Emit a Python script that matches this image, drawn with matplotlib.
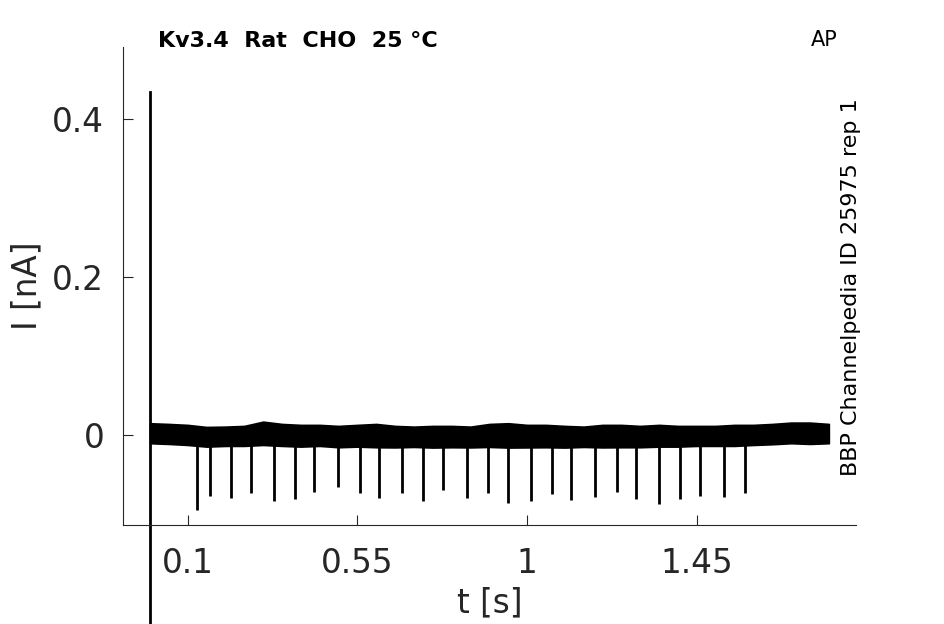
import matplotlib
matplotlib.use("Agg")
import matplotlib.pyplot as plt
import numpy as np

# Datos
env_t = np.arange(0, 1.801, 0.05)
env_upper = [0.0148, 0.0139, 0.0127, 0.0101, 0.0105, 0.0114, 0.0168, 0.0139,
             0.0127, 0.0127, 0.0114, 0.0127, 0.0139, 0.0114, 0.0105, 0.0114,
             0.0114, 0.0105, 0.0139, 0.0148, 0.0127, 0.0127, 0.0114, 0.0105,
             0.0127, 0.0127, 0.0114, 0.0127, 0.0114, 0.0114, 0.0114, 0.0127,
             0.0127, 0.0139, 0.0156, 0.0156, 0.0139]
env_lower = [-0.0105, -0.0114, -0.0127, -0.0148, -0.0139, -0.0139, -0.0127, -0.0139,
             -0.0148, -0.0139, -0.0156, -0.0148, -0.0156, -0.0158, -0.0152, -0.0160,
             -0.0156, -0.0158, -0.0152, -0.0160, -0.0158, -0.0156, -0.0160, -0.0152,
             -0.0158, -0.0156, -0.0156, -0.0148, -0.0148, -0.0139, -0.0139, -0.0139,
             -0.0127, -0.0118, -0.0105, -0.0114, -0.0105]

spike_t = [0.1255, 0.1591, 0.2156, 0.2687, 0.3289, 0.3853, 0.4357, 0.4994, 0.5569,
           0.6081, 0.6691, 0.7248, 0.7762, 0.8399, 0.8971, 0.9486, 1.0096, 1.0661,
           1.1172, 1.1809, 1.2384, 1.2896, 1.3506, 1.4063, 1.4577, 1.5214, 1.5779]
spike_i = [-0.095, -0.077, -0.080, -0.074, -0.084, -0.081, -0.072, -0.066, -0.074,
           -0.080, -0.074, -0.084, -0.070, -0.080, -0.073, -0.086, -0.084, -0.075,
           -0.082, -0.079, -0.072, -0.081, -0.088, -0.081, -0.077, -0.078, -0.074]

onset_t = 0.0
onset_top = 0.434

xticks = [0.1, 0.55, 1, 1.45]
xticklabels = ["0.1", "0.55", "1", "1.45"]
yticks = [0, 0.2, 0.4]
yticklabels = ["0", "0.2", "0.4"]

gris = "#262626"

fig = plt.figure(figsize=(9.45, 6.24), dpi=100)
ax = fig.add_axes([123/945, 1-525/624, (856-123)/945, (525-47)/624])

# banda de ruido
ax.fill_between(env_t, env_lower, env_upper, color="black", lw=1.2, edgecolor="black")
# picos
ax.vlines(spike_t, spike_i, 0, color="black", lw=2)
# linea de inicio (sale por debajo del eje)
ax.plot([onset_t, onset_t], [-1, onset_top], color="black", lw=2, clip_on=False)

ax.set_xlim(-0.0716, 1.872)
ax.set_ylim(-0.114, 0.491)

ax.set_xticks(xticks)
ax.set_xticklabels(xticklabels)
ax.set_yticks(yticks)
ax.set_yticklabels(yticklabels)
ax.tick_params(axis="both", direction="in", length=7, width=0.8, colors=gris,
               labelsize=23.5)
ax.tick_params(axis="x", pad=15.5)
ax.tick_params(axis="y", pad=13.5)

for s in ["top", "right"]:
    ax.spines[s].set_visible(False)
for s in ["left", "bottom"]:
    ax.spines[s].set_color(gris)
    ax.spines[s].set_linewidth(0.8)

ax.set_xlabel("t [s]", fontsize=23.5, color=gris, labelpad=5)
ax.set_ylabel("I [nA]", fontsize=23.5, color=gris, labelpad=6)

fig.text(158/945, 1-47/624, "Kv3.4  Rat  CHO  25 °C", fontsize=16,
         fontweight="bold", ha="left", va="baseline")
fig.text(838/945, 1-46/624, "AP", fontsize=15, ha="right", va="baseline")
fig.text(851/945, 1-287.5/624, "BBP Channelpedia ID 25975 rep 1", fontsize=16,
         rotation=90, ha="center", va="center")

fig.savefig("out.png", dpi=100)
